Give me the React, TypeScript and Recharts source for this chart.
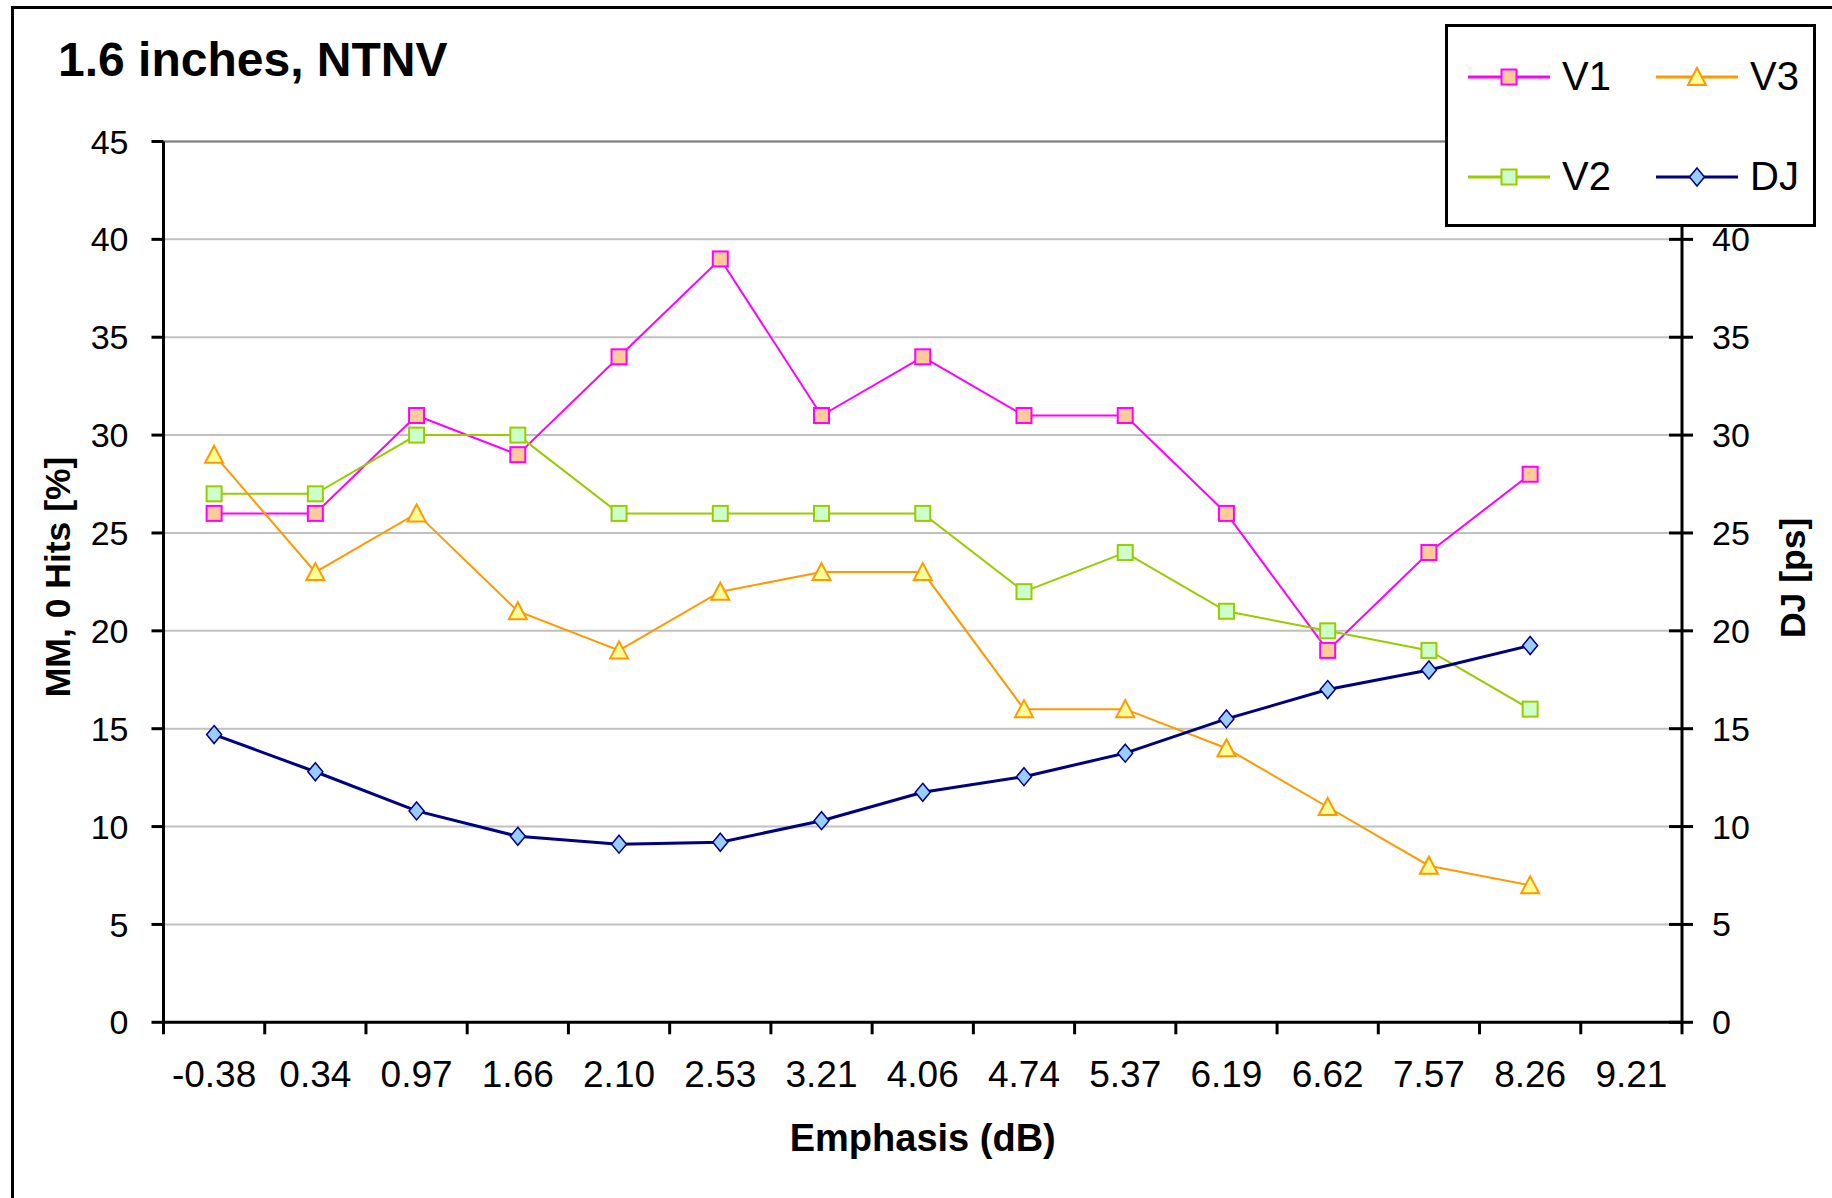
import React from 'react';
import { LineChart, Line, XAxis, YAxis, CartesianGrid, ReferenceLine, Legend } from 'recharts';

const categories = ['-0.38', '0.34', '0.97', '1.66', '2.10', '2.53', '3.21', '4.06', '4.74', '5.37', '6.19', '6.62', '7.57', '8.26', '9.21'];
const v1Values = [26, 26, 31, 29, 34, 39, 31, 34, 31, 31, 26, 19, 24, 28];
const v2Values = [27, 27, 30, 30, 26, 26, 26, 26, 22, 24, 21, 20, 19, 16];
const v3Values = [29, 23, 26, 21, 19, 22, 23, 23, 16, 16, 14, 11, 8, 7];
const djValues = [14.7, 12.8, 10.8, 9.5, 9.1, 9.2, 10.3, 11.75, 12.55, 13.75, 15.5, 17.0, 18.0, 19.25];
const yTicks = [0, 5, 10, 15, 20, 25, 30, 35, 40, 45];

const data = categories.map((cat, i) => ({
  cat,
  V1: v1Values[i] ?? null,
  V2: v2Values[i] ?? null,
  V3: v3Values[i] ?? null,
  DJ: djValues[i] ?? null,
}));

const FONT = '"Liberation Sans", Arial, sans-serif';
const X_TICK_MARGIN = 38;
const X_TICK_LEN = 12;

type Marker = 'square' | 'triangle' | 'diamond';

const series = [
  { key: 'V1', stroke: '#FF00FF', fill: '#FFCC99', marker: 'square' as Marker, axis: 'L', width: 2 },
  { key: 'V2', stroke: '#99CC00', fill: '#CCFFCC', marker: 'square' as Marker, axis: 'L', width: 2 },
  { key: 'V3', stroke: '#FF9900', fill: '#FFFF99', marker: 'triangle' as Marker, axis: 'L', width: 2 },
  { key: 'DJ', stroke: '#000080', fill: '#99CCFF', marker: 'diamond' as Marker, axis: 'R', width: 3 },
];

function markerShape(marker: Marker, cx: number, cy: number, fill: string, stroke: string, key?: string) {
  if (marker === 'square') {
    return <rect key={key} x={cx - 7.5} y={cy - 7.5} width={15} height={15} fill={fill} stroke={stroke} strokeWidth={2} />;
  }
  if (marker === 'triangle') {
    return (
      <polygon key={key} points={`${cx},${cy - 9} ${cx + 9},${cy + 8} ${cx - 9},${cy + 8}`} fill={fill} stroke={stroke} strokeWidth={2} />
    );
  }
  return (
    <polygon key={key} points={`${cx},${cy - 9} ${cx + 7.5},${cy} ${cx},${cy + 9} ${cx - 7.5},${cy}`} fill={fill} stroke={stroke} strokeWidth={1.5} />
  );
}

const makeDot = (marker: Marker, fill: string, stroke: string) => (props: any) => {
  const { cx, cy, index, value } = props;
  const k = `dot-${index}`;
  if (cx == null || cy == null || value == null || Number.isNaN(cy)) return <g key={k} />;
  return markerShape(marker, cx, cy, fill, stroke, k);
};

// category tick: label at band centre, tick mark at band boundary
const XTick = (props: any) => {
  const { x, y, payload, index, visibleTicksCount, width } = props;
  const count = visibleTicksCount || categories.length;
  const axisW = typeof width === 'number' && width > 0 ? width : 1518.5;
  const band = axisW / count;
  const axisY = y - X_TICK_MARGIN;
  const left = x - band / 2;
  return (
    <g>
      <line x1={left} y1={axisY} x2={left} y2={axisY + X_TICK_LEN} stroke="#000000" strokeWidth={3} />
      {index === count - 1 && (
        <line x1={x + band / 2} y1={axisY} x2={x + band / 2} y2={axisY + X_TICK_LEN} stroke="#000000" strokeWidth={3} />
      )}
      <text x={x} y={y} dy={27} textAnchor="middle" fontFamily={FONT} fontSize={37} fill="#000000">
        {payload.value}
      </text>
    </g>
  );
};

// right axis tick: crossing tick mark + label
const RTick = (props: any) => {
  const { x, y, payload } = props;
  const axisX = x - 30;
  return (
    <g>
      <line x1={axisX - 13} y1={y} x2={axisX + 11} y2={y} stroke="#000000" strokeWidth={3} />
      <text x={x} y={y} dy={12} textAnchor="start" fontFamily={FONT} fontSize={34} fill="#000000">
        {payload.value}
      </text>
    </g>
  );
};

const legendOrder = [
  { key: 'V1', col: 0, row: 0 },
  { key: 'V3', col: 1, row: 0 },
  { key: 'V2', col: 0, row: 1 },
  { key: 'DJ', col: 1, row: 1 },
];

const LegendBox = () => (
  <svg width={371} height={203} style={{ display: 'block' }}>
    <rect x={1.5} y={1.5} width={368} height={200} fill="#FFFFFF" stroke="#000000" strokeWidth={3} />
    {legendOrder.map((item) => {
      const s = series.find((x) => x.key === item.key)!;
      const x0 = item.col === 0 ? 23 : 211;
      const y0 = item.row === 0 ? 53 : 153;
      return (
        <g key={item.key}>
          <line x1={x0} y1={y0} x2={x0 + 82} y2={y0} stroke={s.stroke} strokeWidth={3} />
          {markerShape(s.marker, x0 + 41, y0, s.fill, s.stroke)}
          <text x={x0 + 94} y={y0 + 13} fontFamily={FONT} fontSize={40} fill="#000000">
            {s.key}
          </text>
        </g>
      );
    })}
  </svg>
);

export default function App() {
  return (
    <div style={{ position: 'absolute', left: 0, top: 0, width: 1832, height: 1198, background: '#FFFFFF', overflow: 'hidden' }}>
      <div
        style={{
          position: 'absolute',
          left: 11,
          top: 6,
          width: 1840,
          height: 1210,
          borderLeft: '3px solid #000000',
          borderTop: '3px solid #000000',
        }}
      />
      <div
        style={{
          position: 'absolute',
          left: 58,
          top: 36,
          fontFamily: FONT,
          fontWeight: 'bold',
          fontSize: 48,
          lineHeight: '48px',
          color: '#000000',
          whiteSpace: 'nowrap',
        }}
      >
        1.6 inches, NTNV
      </div>
      <div style={{ position: 'absolute', left: 0, top: 0 }}>
        <LineChart width={1832} height={1198} data={data} margin={{ top: 141.5, right: 0, bottom: 0, left: 0 }}>
          <CartesianGrid vertical={false} yAxisId="L" xAxisId="lbl" stroke="#C0C0C0" strokeWidth={2} />
          <ReferenceLine y={45} yAxisId="L" xAxisId="lbl" stroke="#808080" strokeWidth={2} />
          <XAxis
            xAxisId="lbl"
            dataKey="cat"
            type="category"
            scale="band"
            interval={0}
            height={175.7}
            axisLine={{ stroke: '#000000', strokeWidth: 3 }}
            tickLine={false}
            tickSize={0}
            tickMargin={X_TICK_MARGIN}
            tick={<XTick />}
            label={{
              content: (p: any) => {
                const vb = p.viewBox || { x: 163.5, y: 1022.3, width: 1518.5 };
                return (
                  <text x={vb.x + vb.width / 2} y={vb.y + 129} textAnchor="middle" fontFamily={FONT} fontWeight="bold" fontSize={38} fill="#000000">
                    Emphasis (dB)
                  </text>
                );
              },
            }}
          />
          <YAxis
            yAxisId="L"
            orientation="left"
            width={163.5}
            domain={[0, 45]}
            ticks={yTicks}
            interval={0}
            tickSize={12}
            tickMargin={23}
            tick={{ fontFamily: FONT, fontSize: 34, fill: '#000000' }}
            axisLine={{ stroke: '#000000', strokeWidth: 3 }}
            tickLine={{ stroke: '#000000', strokeWidth: 3 }}
            label={{
              content: (p: any) => {
                const vb = p.viewBox || { x: 0, y: 141.5, width: 163.5, height: 880.8 };
                const cx = vb.x + 58;
                const cy = vb.y + vb.height / 2 - 5;
                return (
                  <text x={cx} y={cy} transform={`rotate(-90 ${cx} ${cy})`} textAnchor="middle" dominantBaseline="central" fontFamily={FONT} fontWeight="bold" fontSize={35.5} fill="#000000">
                    MM, 0 Hits [%]
                  </text>
                );
              },
            }}
          />
          <YAxis
            yAxisId="R"
            orientation="right"
            width={150}
            domain={[0, 45]}
            ticks={yTicks}
            interval={0}
            tickSize={11}
            tickMargin={19}
            tick={<RTick />}
            axisLine={{ stroke: '#000000', strokeWidth: 3 }}
            tickLine={false}
            label={{
              content: (p: any) => {
                const vb = p.viewBox || { x: 1682, y: 141.5, width: 150, height: 880.8 };
                const cx = vb.x + 111;
                const cy = vb.y + vb.height / 2 - 4;
                return (
                  <text x={cx} y={cy} transform={`rotate(-90 ${cx} ${cy})`} textAnchor="middle" dominantBaseline="central" fontFamily={FONT} fontWeight="bold" fontSize={35.5} fill="#000000">
                    DJ [ps]
                  </text>
                );
              },
            }}
          />
          {series.map((s) => (
            <Line
              key={s.key}
              xAxisId="lbl"
              yAxisId={s.axis}
              type="linear"
              dataKey={s.key}
              stroke={s.stroke}
              strokeWidth={s.width}
              dot={makeDot(s.marker, s.fill, s.stroke)}
              activeDot={false}
              isAnimationActive={false}
              connectNulls={false}
            />
          ))}
          <Legend
            layout="vertical"
            align="center"
            verticalAlign="middle"
            content={() => <LegendBox />}
            wrapperStyle={{ position: 'absolute', left: 1445, top: 24, width: 371, height: 203, margin: 0, padding: 0 }}
          />
        </LineChart>
      </div>
    </div>
  );
}
